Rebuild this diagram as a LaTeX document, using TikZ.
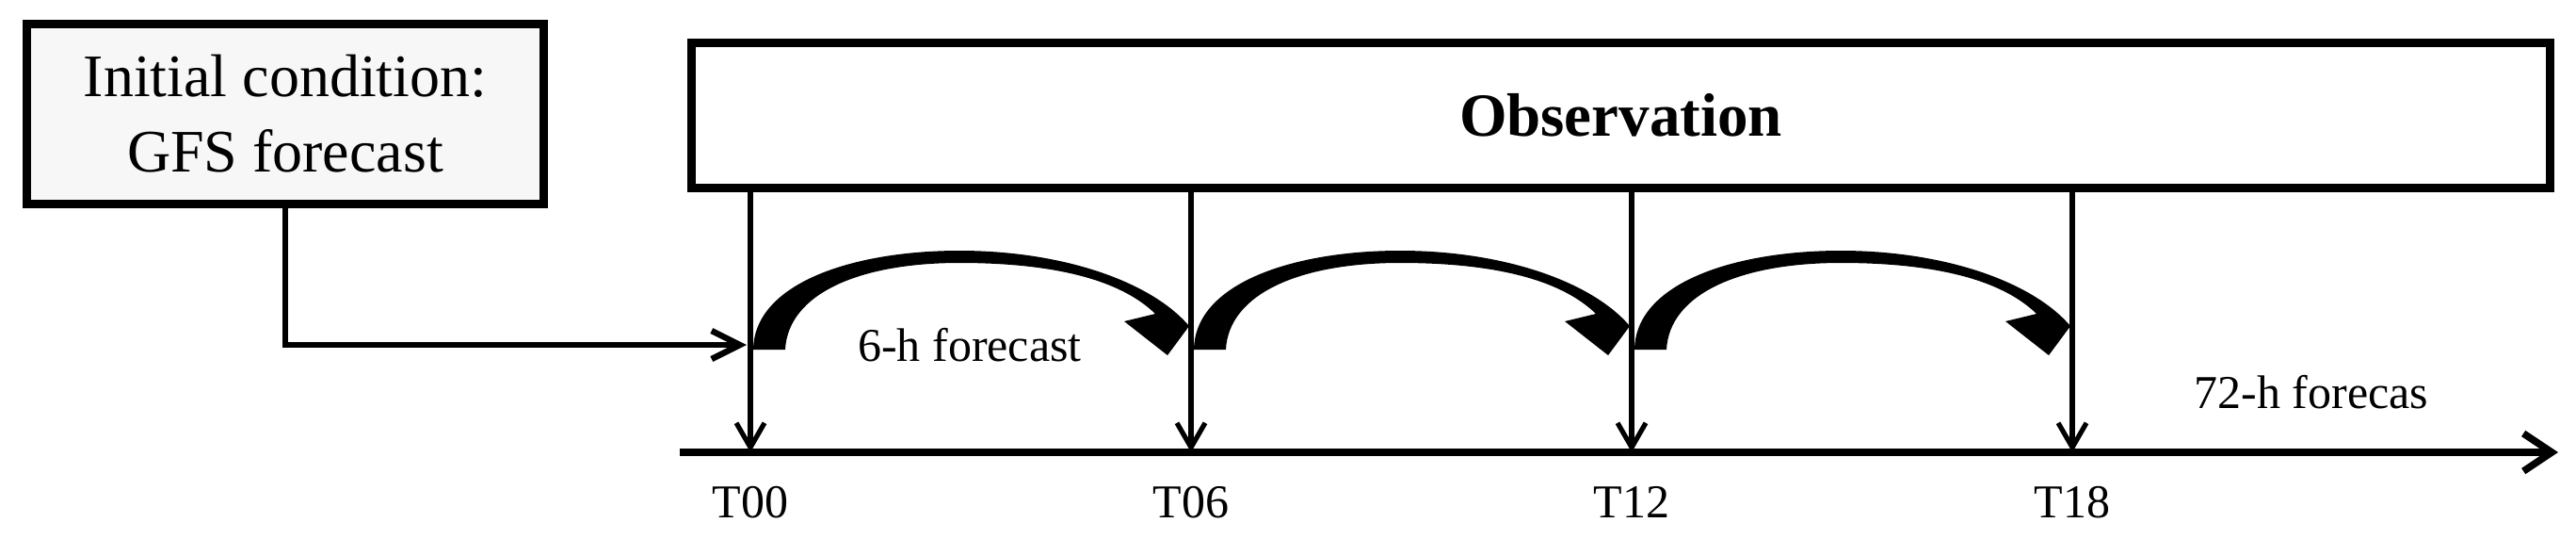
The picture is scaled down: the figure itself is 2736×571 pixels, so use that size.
\documentclass[tikz,border=0pt]{standalone}
\usepackage{fontspec}
\setmainfont{Liberation Serif}
\usetikzlibrary{arrows.meta}
\definecolor{boxgray}{HTML}{F7F7F7}
\tikzset{
  boxnode/.style={draw, line width=2.3pt, rectangle, inner sep=0pt},
  tline/.style={line width=1.3pt, -{Straight Barb[length=6.5pt,width=7.5pt]}},
  conn/.style={line width=1.6pt, -{Straight Barb[length=7.5pt,width=7.5pt]}},
  axisline/.style={line width=1.9pt, -{Straight Barb[length=7.5pt,width=10pt]}},
  smalltext/.style={font=\fontsize{12.5}{15}\selectfont, inner sep=0pt, anchor=base},
}
\begin{document}
\begin{tikzpicture}[x=0.25pt, y=-0.25pt]
\useasboundingbox (0,0) rectangle (2736,571);

% boxes
\node[boxnode, fill=boxgray, minimum width=137.25pt, minimum height=47.75pt, align=center,
      font=\fontsize{16}{20}\selectfont] (init) at (303,121) {Initial condition:\\GFS forecast};
\node[boxnode, fill=white, minimum width=493.5pt, minimum height=38.5pt,
      font=\fontsize{16.25}{20}\selectfont\bfseries] (obs) at (1721.5,122.5) {Observation};

% time axis
\coordinate (axs) at (722,480);
\coordinate (axe) at (2717,480);
\coordinate (t0) at (797,480);
\coordinate (t1) at (1265,480);
\coordinate (t2) at (1733,480);
\coordinate (t3) at (2201,480);
\draw[axisline] (axs) -- (axe);

% observation arrows
\foreach \t in {t0,t1,t2,t3} {
  \draw[tline] (obs.south -| \t) -- (\t);
}

% connector from initial condition
\coordinate (c1) at (793,366);
\draw[conn] (init.south) |- (c1);

% curved forecast arrows
\foreach \x in {797,1265,1733} {
  \fill[shift={(\x,0)}] (3,371) .. controls (4,300) and (110,266) .. (222,266)
     .. controls (330,266) and (425,298) .. (466,346)
     -- (443,377) -- (397,341) -- (430,333)
     .. controls (392,296) and (320,279) .. (222,279)
     .. controls (115,279) and (40,312) .. (37,371) -- cycle;
}

% labels
\node[smalltext] (l0) at (797,549) {T00};
\node[smalltext] (l1) at (1265,549) {T06};
\node[smalltext] (l2) at (1733,549) {T12};
\node[smalltext] (l3) at (2201,549) {T18};
\node[smalltext] (f6) at (1030,383) {6-h forecast};
\node[smalltext] (f72) at (2455,433) {72-h forecas};
\end{tikzpicture}
\end{document}
